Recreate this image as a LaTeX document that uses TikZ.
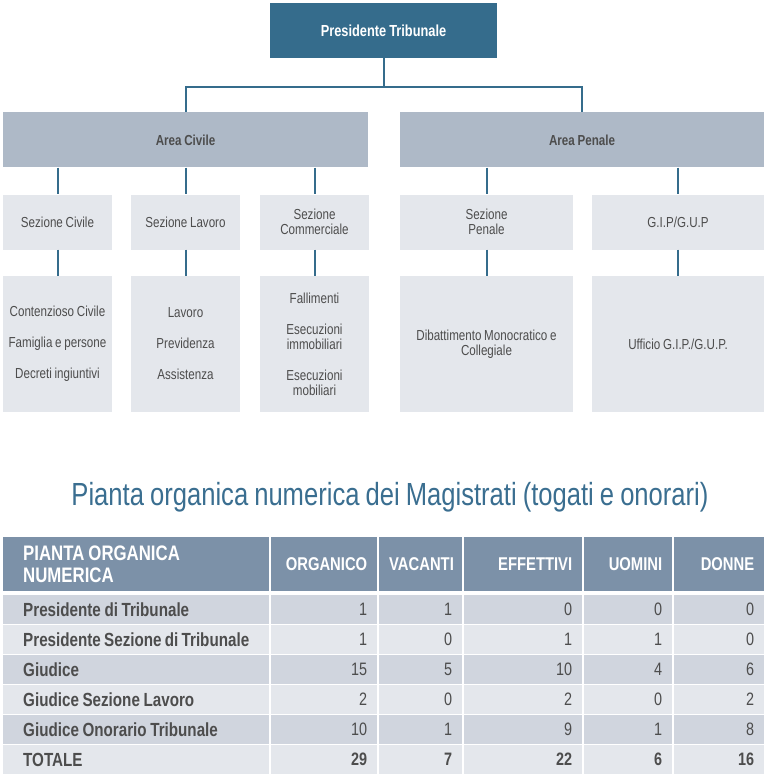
\documentclass[tikz,border=0pt]{standalone}
\usepackage{fontspec}
\setmainfont{Liberation Sans}[FakeStretch=0.8, WordSpace=0.85]
\usetikzlibrary{positioning}
\definecolor{presblue}{RGB}{53,108,140}
\definecolor{titleblue}{RGB}{58,110,144}
\definecolor{areagray}{RGB}{174,185,199}
\definecolor{boxgray}{RGB}{228,231,236}
\definecolor{hdblue}{RGB}{124,145,168}
\definecolor{rowdark}{RGB}{208,213,222}
\definecolor{txtgray}{RGB}{77,77,77}

\begin{document}
\begin{tikzpicture}[x=1pt, y=-1pt,
    box/.style={inner sep=0pt, align=center, text=txtgray, font=\fontsize{14.5}{15}\selectfont},
    pres/.style={box, fill=presblue, text=white, minimum width=227pt, minimum height=55pt, font=\fontsize{16}{18}\selectfont\bfseries},
    area/.style={box, fill=areagray, minimum height=55pt, font=\fontsize{14.5}{16}\selectfont\bfseries},
    sez/.style={box, fill=boxgray, minimum height=55pt},
    cnt/.style={box, fill=boxgray, minimum height=136pt},
    conn/.style={draw=presblue, line width=2pt},
    cell/.style={anchor=north west, inner xsep=10pt, inner ysep=0pt, minimum height=29pt, align=flush right, text=txtgray, font=\fontsize{18}{20}\selectfont},
    hd/.style={cell, fill=hdblue, text=white, minimum height=54pt, font=\fontsize{18.5}{20}\selectfont\bfseries},
    rd/.style={cell, fill=rowdark},
    rl/.style={cell, fill=boxgray},
    lb/.style={align=flush left, inner xsep=20pt, text width=226pt, font=\fontsize{19}{20}\selectfont\bfseries},
    tot/.style={font=\fontsize{18}{20}\selectfont\bfseries},
    corg/.style={text width=86pt},
    cvac/.style={text width=63pt},
    ceff/.style={text width=98pt},
    cuom/.style={text width=68pt},
    cdon/.style={text width=70pt}
]
\useasboundingbox (0,0) rectangle (768,778);

% organigramma
\node[pres] (pres) at (383.5,30.5) {Presidente Tribunale};
\node[area, minimum width=365pt] (civ) at (185.5,140) {Area Civile};
\node[area, minimum width=364pt] (pen) at (582,140) {Area Penale};

\node[sez, minimum width=109pt] (sciv) at (57.5,222) {Sezione Civile};
\node[sez, minimum width=109pt] (slav) at (185.5,222) {Sezione Lavoro};
\node[sez, minimum width=109pt] (scom) at (314.5,222) {Sezione\\Commerciale};
\node[sez, minimum width=173pt] (spen) at (486.5,222) {Sezione\\Penale};
\node[sez, minimum width=172pt] (sgip) at (678,222) {G.I.P/G.U.P};

\node[cnt, minimum width=109pt] (cciv) at (57.5,344) {Contenzioso Civile\\[16pt]Famiglia e persone\\[16pt]Decreti ingiuntivi};
\node[cnt, minimum width=109pt] (clav) at (185.5,344) {Lavoro\\[16pt]Previdenza\\[16pt]Assistenza};
\node[cnt, minimum width=109pt] (ccom) at (314.5,344) {Fallimenti\\[16pt]Esecuzioni\\immobiliari\\[16pt]Esecuzioni\\mobiliari};
\node[cnt, minimum width=173pt] (cpen) at (486.5,344) {Dibattimento Monocratico e\\Collegiale};
\node[cnt, minimum width=172pt] (cgip) at (678,344) {Ufficio G.I.P./G.U.P.};

\draw[conn] (pres.south) -- ++(0,29) -| (civ.north);
\draw[conn] (pres.south) -- ++(0,29) -| (pen.north);
\draw[conn] (sciv.north |- civ.south) -- (sciv.north);
\draw[conn] (slav.north |- civ.south) -- (slav.north);
\draw[conn] (scom.north |- civ.south) -- (scom.north);
\draw[conn] (spen.north |- pen.south) -- (spen.north);
\draw[conn] (sgip.north |- pen.south) -- (sgip.north);
\draw[conn] (sciv) -- (cciv);
\draw[conn] (slav) -- (clav);
\draw[conn] (scom) -- (ccom);
\draw[conn] (spen) -- (cpen);
\draw[conn] (sgip) -- (cgip);

% tabella
\node[text=titleblue, font=\fontsize{32}{34}\selectfont] (titolo) at (390,497) {Pianta organica numerica dei Magistrati (togati e onorari)};

\node[hd, lb, font=\fontsize{21}{22}\selectfont\bfseries] (h0) at (3,537) {PIANTA ORGANICA\\NUMERICA};
\node[hd, corg] (h1) at (271,537) {ORGANICO};
\node[hd, cvac] (h2) at (379,537) {VACANTI};
\node[hd, ceff] (h3) at (464,537) {EFFETTIVI};
\node[hd, cuom] (h4) at (584,537) {UOMINI};
\node[hd, cdon] (h5) at (674,537) {DONNE};

\node[rd, lb] (r1l) at (3,595) {Presidente di Tribunale};
\node[rd, corg] (r1o) at (271,595) {1};
\node[rd, cvac] (r1v) at (379,595) {1};
\node[rd, ceff] (r1e) at (464,595) {0};
\node[rd, cuom] (r1u) at (584,595) {0};
\node[rd, cdon] (r1d) at (674,595) {0};

\node[rl, lb] (r2l) at (3,625) {Presidente Sezione di Tribunale};
\node[rl, corg] (r2o) at (271,625) {1};
\node[rl, cvac] (r2v) at (379,625) {0};
\node[rl, ceff] (r2e) at (464,625) {1};
\node[rl, cuom] (r2u) at (584,625) {1};
\node[rl, cdon] (r2d) at (674,625) {0};

\node[rd, lb] (r3l) at (3,655) {Giudice};
\node[rd, corg] (r3o) at (271,655) {15};
\node[rd, cvac] (r3v) at (379,655) {5};
\node[rd, ceff] (r3e) at (464,655) {10};
\node[rd, cuom] (r3u) at (584,655) {4};
\node[rd, cdon] (r3d) at (674,655) {6};

\node[rl, lb] (r4l) at (3,685) {Giudice Sezione Lavoro};
\node[rl, corg] (r4o) at (271,685) {2};
\node[rl, cvac] (r4v) at (379,685) {0};
\node[rl, ceff] (r4e) at (464,685) {2};
\node[rl, cuom] (r4u) at (584,685) {0};
\node[rl, cdon] (r4d) at (674,685) {2};

\node[rd, lb] (r5l) at (3,715) {Giudice Onorario Tribunale};
\node[rd, corg] (r5o) at (271,715) {10};
\node[rd, cvac] (r5v) at (379,715) {1};
\node[rd, ceff] (r5e) at (464,715) {9};
\node[rd, cuom] (r5u) at (584,715) {1};
\node[rd, cdon] (r5d) at (674,715) {8};

\node[rl, lb] (r6l) at (3,745) {TOTALE};
\node[rl, corg, tot] (r6o) at (271,745) {29};
\node[rl, cvac, tot] (r6v) at (379,745) {7};
\node[rl, ceff, tot] (r6e) at (464,745) {22};
\node[rl, cuom, tot] (r6u) at (584,745) {6};
\node[rl, cdon, tot] (r6d) at (674,745) {16};
\end{tikzpicture}
\end{document}
